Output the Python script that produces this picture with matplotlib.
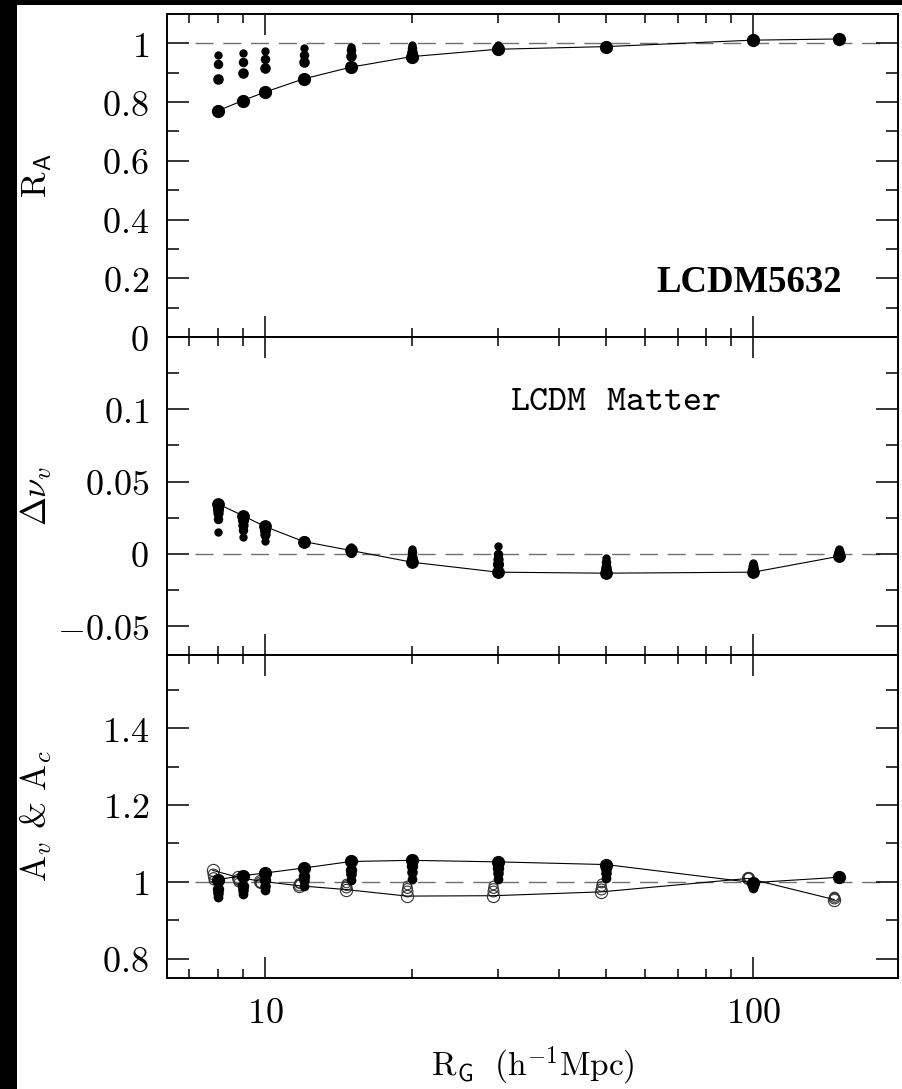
import numpy as np
import matplotlib
matplotlib.use("Agg")
import matplotlib.pyplot as plt
from matplotlib.patches import Rectangle
from matplotlib.ticker import FixedLocator, FuncFormatter, LogLocator, NullFormatter

plt.rcParams["mathtext.fontset"] = "cm"
plt.rcParams["font.family"] = ["DejaVu Serif"]

# smoothing scale R_G (h^-1 Mpc)
rg = [8, 9, 10, 12, 15, 20, 30, 50, 100, 150]

# top panel: R_A (main series joined by a line, others are smaller dots)
ra_main = [0.770, 0.805, 0.834, 0.879, 0.919, 0.955, 0.980, 0.989, 1.011, 1.015]
ra_s3 = [0.877, 0.899, 0.917, 0.936, 0.957, 0.970, 0.984, 0.990, 1.012, 1.015]
ra_s2 = [0.930, 0.936, 0.948, 0.959, 0.976, 0.985, 0.988, 0.992, 1.012, 1.015]
ra_s1 = [0.961, 0.966, 0.974, 0.983, 0.989, 0.994, 0.994, 0.994, 1.013, 1.016]

# middle panel: delta nu_v
dn_main = [0.0346, 0.0265, 0.0189, 0.0085, 0.0023, -0.0058, -0.0127, -0.0134, -0.0127, -0.0017]
dn_s4 = [0.0312, 0.0231, 0.0162, 0.0092, 0.0015, -0.0040, -0.0069, -0.0115, -0.0110, 0.0000]
dn_s3 = [0.0281, 0.0196, 0.0140, 0.0085, 0.0023, -0.0020, -0.0035, -0.0093, -0.0093, 0.0011]
dn_s2 = [0.0242, 0.0162, 0.0127, 0.0080, 0.0035, 0.0010, 0.0000, -0.0058, -0.0080, 0.0020]
dn_s1 = [0.0150, 0.0115, 0.0087, 0.0073, 0.0050, 0.0035, 0.0057, -0.0028, -0.0065, 0.0035]

# bottom panel: A_v (filled) and A_c (open)
av_main = [1.006, 1.016, 1.023, 1.036, 1.053, 1.056, 1.052, 1.045, 0.998, 1.012]
av_s3 = [0.982, 0.988, 1.005, 1.015, 1.030, 1.040, 1.037, 1.036, 0.995, 1.012]
av_s2 = [0.970, 0.978, 0.990, 1.005, 1.020, 1.025, 1.024, 1.023, 0.990, 1.011]
av_s1 = [0.960, 0.968, 0.978, 0.990, 1.005, 1.008, 1.008, 1.010, 0.985, 1.011]

ac_main = [1.030, 1.012, 1.002, 0.990, 0.980, 0.963, 0.964, 0.974, 1.009, 0.954]
ac_s3 = [1.020, 1.008, 1.000, 0.993, 0.986, 0.975, 0.975, 0.982, 1.010, 0.958]
ac_s2 = [1.012, 1.004, 0.998, 0.996, 0.992, 0.985, 0.985, 0.990, 1.012, 0.961]
ac_s1 = [1.005, 1.000, 0.996, 0.998, 0.996, 0.993, 0.993, 0.996, 1.013, 0.963]

W, H = 902, 1089
fig = plt.figure(figsize=(W / 100, H / 100), dpi=100, facecolor="black")
fig.add_artist(Rectangle((17 / W, 0), 1, (H - 5) / H, transform=fig.transFigure,
                         facecolor="white", edgecolor="none", zorder=-5))

left, width = 167 / W, 731 / W
ax1 = fig.add_axes([left, 1 - 337 / H, width, 323 / H])
ax2 = fig.add_axes([left, 1 - 655 / H, width, 318 / H])
ax3 = fig.add_axes([left, 1 - 978 / H, width, 323 / H])

fmt = FuncFormatter(lambda v, p: f"${v:g}$")
open_shift = 0.977
ref_x = [7.2, 185]


def ref_line(ax, y0):
    ax.plot(ref_x, [y0, y0], color="#707070", lw=1.0, dashes=(13, 7), zorder=1)


def style(ax, ylim, major, minor, show_x):
    ax.set_xscale("log")
    ax.set_xlim(6.3, 198)
    ax.set_ylim(*ylim)
    ax.xaxis.set_major_locator(LogLocator(base=10))
    ax.xaxis.set_minor_locator(LogLocator(base=10, subs=np.arange(2, 10)))
    ax.xaxis.set_minor_formatter(NullFormatter())
    ax.xaxis.set_major_formatter(fmt if show_x else NullFormatter())
    ax.yaxis.set_major_locator(FixedLocator(major))
    ax.yaxis.set_minor_locator(FixedLocator(minor))
    ax.yaxis.set_major_formatter(fmt)
    ax.tick_params(which="both", direction="in", top=True, right=True, width=1.1,
                   labelsize=26, pad=13, colors="black")
    ax.tick_params(axis="x", which="major", length=15)
    ax.tick_params(axis="x", which="minor", length=6.5)
    ax.tick_params(axis="y", which="major", length=16)
    ax.tick_params(axis="y", which="minor", length=8.5)
    for s in ax.spines.values():
        s.set_linewidth(1.4)
    ax.yaxis.set_label_coords(-0.155, 0.5)


def dots(ax, x, y, size, filled=True, line=False):
    kw = dict(marker="o", ms=size, ls="-" if line else "none", lw=0.8, color="black", zorder=3)
    if filled:
        ax.plot(x, y, mfc="black", mec="black", **kw)
    else:
        ax.plot(x, y, mfc="none", mec="#333333", mew=0.8, **kw)


# top panel
style(ax1, (0, 1.1), [0, 0.2, 0.4, 0.6, 0.8, 1.0], np.arange(0.1, 1.1, 0.2), False)
ref_line(ax1, 1.0)
for vals, ms in [(ra_s1, 5.0), (ra_s2, 5.8), (ra_s3, 6.6)]:
    dots(ax1, rg, vals, ms)
dots(ax1, rg, ra_main, 8.5, line=True)
ax1.set_ylabel(r"$\mathrm{R}_{\mathsf{A}}$", fontsize=25)
ax1.text(0.923, 0.139, "LCDM5632", transform=ax1.transAxes, ha="right", va="baseline",
         fontsize=26.5, fontweight="bold", family="Liberation Serif")

# middle panel
style(ax2, (-0.07, 0.15), [-0.05, 0, 0.05, 0.1], [-0.025, 0.025, 0.075, 0.125], False)
ref_line(ax2, 0.0)
for vals, ms in [(dn_s1, 5.0), (dn_s2, 5.8), (dn_s3, 6.4), (dn_s4, 7.0)]:
    dots(ax2, rg, vals, ms)
dots(ax2, rg, dn_main, 8.2, line=True)
ax2.set_ylabel(r"$\Delta\nu_{v}$", fontsize=25)
ax2.text(0.469, 0.770, r"$\mathtt{LCDM\ \ Matter}$", transform=ax2.transAxes,
         ha="left", va="baseline", fontsize=26)

# bottom panel
style(ax3, (0.75, 1.59), [0.8, 1.0, 1.2, 1.4], [0.9, 1.1, 1.3, 1.5], True)
ref_line(ax3, 1.0)
rg_open = np.array(rg) * open_shift
for vals, ms in [(ac_s1, 6.2), (ac_s2, 7.0), (ac_s3, 7.8)]:
    dots(ax3, rg_open, vals, ms, filled=False)
dots(ax3, rg_open, ac_main, 8.8, filled=False, line=True)
for vals, ms in [(av_s1, 6.0), (av_s2, 6.6), (av_s3, 7.2)]:
    dots(ax3, rg, vals, ms)
dots(ax3, rg, av_main, 8.5, line=True)
ax3.set_ylabel(r"$\mathrm{A}_{v}$ & $\mathrm{A}_{c}$", fontsize=25, family="cmr10")
ax3.set_xlabel(r"$\mathrm{R}_{\mathsf{G}}\ \ (\mathrm{h}^{-1}\mathrm{Mpc})$", fontsize=24, labelpad=10)

fig.savefig("out.png", dpi=100, facecolor=fig.get_facecolor())
